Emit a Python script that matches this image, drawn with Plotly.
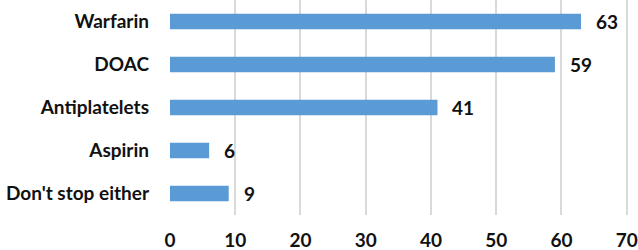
import plotly.graph_objects as go

categories = ["Warfarin", "DOAC", "Antiplatelets", "Aspirin", "Don't stop either"]
values = [63, 59, 41, 6, 9]
x_ticks = [0, 10, 20, 30, 40, 50, 60, 70]

cats_r = categories[::-1]
vals_r = values[::-1]

FONT = "Lato"

fig = go.Figure(go.Bar(
    y=cats_r, x=vals_r, orientation="h",
    marker=dict(color="#5B9BD5", line=dict(color="#5B9BD5", width=0)),
    width=0.36,
))

for c, v in zip(cats_r, vals_r):
    fig.add_annotation(x=v, y=c, text=f"<b>{v}</b>", showarrow=False,
                       xanchor="left", xshift=13,
                       font=dict(family=FONT, size=19, color="#111111"))

fig.update_layout(
    width=638, height=250,
    margin=dict(l=170, r=10, t=0, b=35),
    paper_bgcolor="white", plot_bgcolor="white",
    showlegend=False,
    font=dict(family=FONT, size=19, color="#111111"),
    xaxis=dict(range=[0, 70.2], tickvals=x_ticks, ticktext=[f"<b>{t}</b>" for t in x_ticks],
               showgrid=True, gridcolor="#D9D9D9", gridwidth=1.5, zeroline=False,
               showline=False, ticks="", tickfont=dict(size=19, family=FONT), ticklabelstandoff=12,
               automargin=False),
    yaxis=dict(range=[-0.5, 4.5], tickvals=cats_r, ticktext=[f"<b>{c}</b>" for c in cats_r],
               showgrid=False, zeroline=False, showline=False, ticks="",
               tickfont=dict(size=19, family=FONT), ticklabelstandoff=20, automargin=False),
)

fig.write_html("out.html", config={"displayModeBar": False},
               post_script="document.body.style.margin='0px';")
